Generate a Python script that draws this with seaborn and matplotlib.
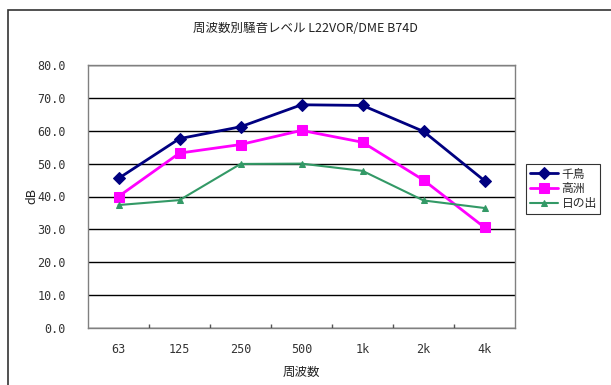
import matplotlib
matplotlib.use("Agg")
import matplotlib.pyplot as plt
from matplotlib.patches import Rectangle
from matplotlib.ticker import FixedLocator
import seaborn as sns
import pandas as pd
import numpy as np

# 周波数帯と各地点の騒音レベル (dB)
bands = ["63", "125", "250", "500", "1k", "2k", "4k"]
chidori = [45.5, 57.6, 61.2, 67.9, 67.7, 59.8, 44.8]
takasu = [40.0, 53.2, 55.8, 60.1, 56.5, 45.0, 30.6]
hinode = [37.4, 38.9, 49.9, 50.0, 47.8, 38.8, 36.5]
sites = ["千鳥", "高洲", "日の出"]
yticks = [0, 10, 20, 30, 40, 50, 60, 70, 80]

sns.set_theme(style="white")
jp = ["Noto Sans CJK JP", "DejaVu Sans"]
plt.rcParams["font.family"] = jp

rows = []
for name, vals in zip(sites, [chidori, takasu, hinode]):
    for i, (b, v) in enumerate(zip(bands, vals)):
        rows.append({"idx": i, "band": b, "site": name, "dB": v})
df = pd.DataFrame(rows)

colors = {"千鳥": "#000080", "高洲": "#FF00FF", "日の出": "#339966"}
markers = {"千鳥": "D", "高洲": "s", "日の出": "^"}
sizes = {"千鳥": 6, "高洲": 7, "日の出": 4.5}
widths = {"千鳥": 2.0, "高洲": 2.0, "日の出": 1.5}

fig = plt.figure(figsize=(6.11, 3.85), dpi=100)
fig.patch.set_facecolor("white")
ax = fig.add_axes([88 / 611, 1 - 328 / 385, (515 - 88) / 611, (328 - 65) / 385])

for name in sites:
    sub = df[df["site"] == name]
    sns.lineplot(data=sub, x="idx", y="dB", ax=ax, color=colors[name],
                 marker=markers[name], markersize=sizes[name],
                 markeredgecolor=colors[name], linewidth=widths[name],
                 label=name, legend=False)

ax.set_xlim(-0.5, len(bands) - 0.5)
ax.set_ylim(0, 80)
ax.yaxis.set_major_locator(FixedLocator(yticks))
ax.set_yticklabels([f"{v:.1f}" for v in yticks], family="DejaVu Sans Mono",
                   fontsize=8.5, color="#333333")
ax.set_xticks(range(len(bands)))
ax.set_xticklabels(bands, family="DejaVu Sans Mono", fontsize=8.5, color="#333333")
ax.xaxis.set_minor_locator(FixedLocator(np.arange(0.5, len(bands) - 1, 1.0)))
ax.tick_params(axis="x", which="major", length=0, pad=11)
ax.tick_params(axis="x", which="minor", length=3, direction="in", color="#555555",
               bottom=True)
ax.tick_params(axis="y", length=0, pad=16)

ax.grid(axis="y", color="black", linewidth=1.0)
ax.set_axisbelow(True)
for side, sp in ax.spines.items():
    sp.set_color("#808080")
    sp.set_linewidth(1.0)

ax.set_xlabel("周波数", fontsize=9, color="#222222", labelpad=7)
ax.set_ylabel("dB", fontsize=9, color="#222222", labelpad=-1)

fig.text(305 / 611, 1 - 28 / 385, "周波数別騒音レベル L22VOR/DME B74D",
         ha="center", va="center", fontsize=9, color="#222222")

handles, labels = ax.get_legend_handles_labels()
leg = fig.legend(handles, labels, loc="upper left",
                 bbox_to_anchor=(526 / 611, 1 - 164 / 385), fontsize=8.5,
                 frameon=True, fancybox=False, borderpad=0.3, labelspacing=0.15,
                 handlelength=2.4, handletextpad=0.3, borderaxespad=0)
leg.get_frame().set_edgecolor("black")
leg.get_frame().set_linewidth(0.8)

# chart outline
fig.patches.append(Rectangle((8 / 611, -0.05), 1.1, 1 - 10 / 385 + 0.05,
                             transform=fig.transFigure, fill=False,
                             edgecolor="#333333", linewidth=1.2))

fig.savefig("out.png", dpi=100, facecolor="white")
